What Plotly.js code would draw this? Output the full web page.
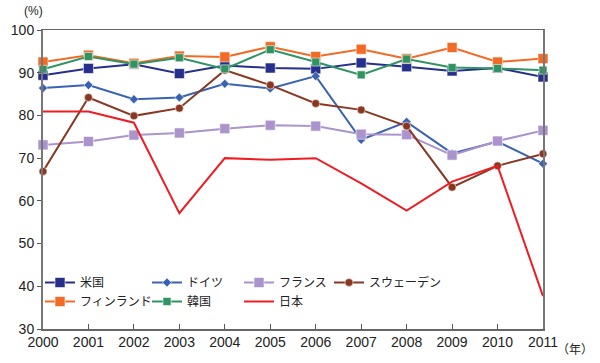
<!DOCTYPE html>
<html>
<head>
<meta charset="utf-8">
<script src="https://cdn.plot.ly/plotly-3.0.1.min.js"></script>
<style>html,body{margin:0;padding:0;background:#fff;}#chart{width:600px;height:363px;}</style>
</head>
<body>
<div id="chart"></div>
<script>
var years = [2000,2001,2002,2003,2004,2005,2006,2007,2008,2009,2010,2011];
var usa     = [89.4,91.0,92.0,89.8,91.7,91.1,90.9,92.3,91.4,90.4,91.1,89.0];
var germany = [86.4,87.1,83.8,84.2,87.4,86.3,89.2,74.3,78.5,71.1,73.9,68.7];
var france  = [73.1,73.9,75.4,75.9,76.9,77.7,77.5,75.6,75.5,70.7,74.0,76.5];
var sweden  = [66.9,84.2,79.9,81.7,90.6,87.1,82.8,81.3,77.5,63.2,68.2,71.0];
var finland = [92.5,94.1,92.2,93.9,93.7,96.1,93.8,95.5,93.3,95.9,92.5,93.3];
var korea   = [90.8,93.8,92.0,93.5,90.9,95.4,92.5,89.5,93.2,91.2,91.0,90.6];
var japan   = [80.9,80.9,78.3,57.1,70.0,69.6,70.0,64.1,57.7,64.5,68.2,37.7];
var yTicks = [30,40,50,60,70,80,90,100];
var unitY = "(%)";
var unitX = "（年）";

function tr(name, y, color, symbol, size, legend, mode){
  return {
    x: years, y: y, name: name, type: 'scatter', mode: mode || 'lines+markers',
    legend: legend,
    line: {color: color, width: 2},
    marker: {symbol: symbol, size: size, color: color, line: {color: 'rgba(255,255,255,0.7)', width: 0.8}},
    cliponaxis: false
  };
}
var data = [
  tr('米国', usa, '#262f8c', 'square', 10, 'legend'),
  tr('ドイツ', germany, '#3a62b3', 'diamond', 7, 'legend2'),
  tr('フランス', france, '#ab93cc', 'square', 10, 'legend3'),
  tr('スウェーデン', sweden, '#8a3722', 'circle', 8, 'legend4'),
  tr('フィンランド', finland, '#f26a25', 'square', 10, 'legend'),
  tr('韓国', korea, '#2f9362', 'square', 8, 'legend2'),
  tr('日本', japan, '#ee1d23', 'circle', 1, 'legend3', 'lines')
];
var fontMain = 'Liberation Sans, Arial, sans-serif';
var legFont = {family: 'Noto Sans CJK JP, sans-serif', size: 12, color: '#222'};
function leg(px){
  return {orientation: 'v', xref: 'paper', yref: 'paper', x: (px - 43) / 500, y: (329 - 268) / 299,
          xanchor: 'left', yanchor: 'top', font: legFont, bgcolor: 'rgba(0,0,0,0)',
          tracegroupgap: 0, traceorder: 'normal'};
}
var layout = {
  width: 600, height: 363,
  margin: {l: 43, r: 57, t: 30, b: 34},
  paper_bgcolor: '#fff', plot_bgcolor: '#fff',
  showlegend: true,
  legend: leg(40),
  legend2: leg(147),
  legend3: leg(239),
  legend4: leg(329),
  xaxis: {
    range: [2000, 2011], tickmode: 'array', tickvals: years, ticktext: years.map(String),
    ticks: 'inside', ticklen: 5, tickcolor: '#555', showgrid: false, zeroline: false,
    showline: true, linecolor: '#666', linewidth: 1.5, mirror: true,
    tickfont: {family: fontMain, size: 14, color: '#222'}
  },
  yaxis: {
    range: [30, 100], tickmode: 'array', tickvals: yTicks,
    ticks: 'outside', ticklen: 4, tickcolor: '#555', showgrid: false, zeroline: false,
    showline: true, linecolor: '#777', linewidth: 2, mirror: true,
    tickfont: {family: fontMain, size: 14, color: '#222'}
  },
  annotations: [
    {text: unitY, xref: 'paper', yref: 'paper', x: -0.02, y: 1.033, xanchor: 'center', yanchor: 'bottom', showarrow: false,
     font: {family: fontMain, size: 12, color: '#222'}},
    {text: unitX, xref: 'paper', yref: 'paper', x: 1.104, y: -0.064, xanchor: 'right', yanchor: 'middle', showarrow: false,
     font: {family: 'Noto Sans CJK JP, sans-serif', size: 12, color: '#222'}}
  ]
};
Plotly.newPlot('chart', data, layout, {staticPlot: true, displayModeBar: false});
</script>
</body>
</html>
